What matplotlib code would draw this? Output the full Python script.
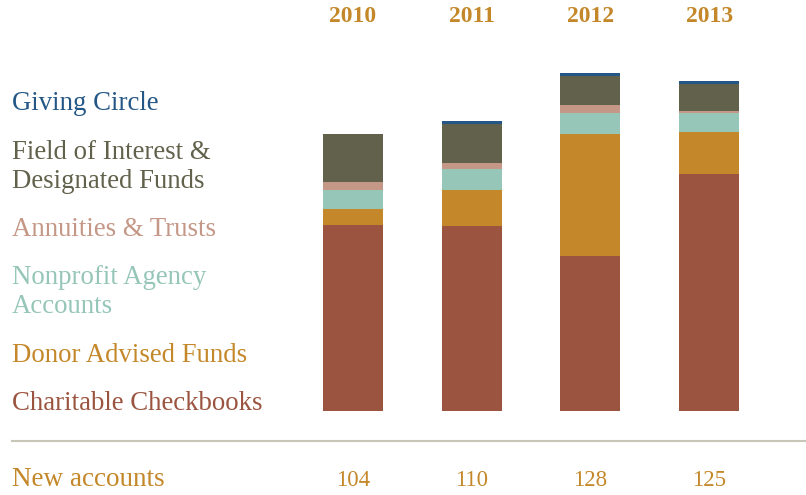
import numpy as np
import matplotlib.pyplot as plt
from matplotlib.transforms import blended_transform_factory

years = ['2010', '2011', '2012', '2013']
new_accounts = [104, 110, 128, 125]

# segment heights, bottom to top
charitable = [185.5, 185, 155, 237]
donor_advised = [16, 36, 122, 42]
nonprofit = [19.5, 21, 21, 19]
annuities = [7.5, 6, 8, 2]
field_interest = [48, 39, 29, 27]
giving_circle = [0, 3, 3, 3]

series = [charitable, donor_advised, nonprofit, annuities, field_interest, giving_circle]
names = ['Charitable Checkbooks', 'Donor Advised Funds', 'Nonprofit Agency\nAccounts',
         'Annuities & Trusts', 'Field of Interest &\nDesignated Funds', 'Giving Circle']
colors = ['#9b543f', '#c4882a', '#95c6b8', '#c49787', '#62614b', '#245785']

W, H = 806, 495
fig = plt.figure(figsize=(W / 100, H / 100), dpi=100)
ax = fig.add_axes([0, 0, 1, 1])
ax.axis('off')

base_px = 410.5
step = 118.7
c0 = 353
ax.set_ylim(-(H - base_px), base_px)
ax.set_xlim(-c0 / step, (W - c0) / step)

x = np.arange(len(years))
bottom = np.zeros(len(years))
for vals, col in zip(series, colors):
    ax.bar(x, vals, bottom=bottom, width=60 / step, color=col, linewidth=0)
    bottom += np.array(vals)

font = 'Liberation Serif'
gold = '#c4882a'
tr = blended_transform_factory(ax.transData, fig.transFigure)
for i, (yr, n) in enumerate(zip(years, new_accounts)):
    ax.text(i, 1 - 17 / H, yr, transform=tr, ha='center', va='center',
            fontsize=17, fontweight='bold', color=gold, family=font)
    ax.text(i, 1 - 480 / H, str(n), transform=tr, ha='center', va='center',
            fontsize=16.5, color=gold, family=font)

label_y = [104, 167, 230, 292, 355, 403][::-1]
for name, col, yy in zip(names, colors, label_y):
    fig.text(12 / W, 1 - yy / H, name, ha='left', va='center', fontsize=19.3,
             color=col, family=font, linespacing=1.25)

fig.text(12 / W, 1 - 479 / H, 'New accounts', ha='left', va='center', fontsize=19.5,
         color=gold, family=font)

fig.add_artist(plt.Line2D([12 / W, 1], [1 - 441 / H, 1 - 441 / H], color='#c8c6b8',
                          linewidth=1.5, transform=fig.transFigure))

fig.savefig('out.png', dpi=100, facecolor='white')
